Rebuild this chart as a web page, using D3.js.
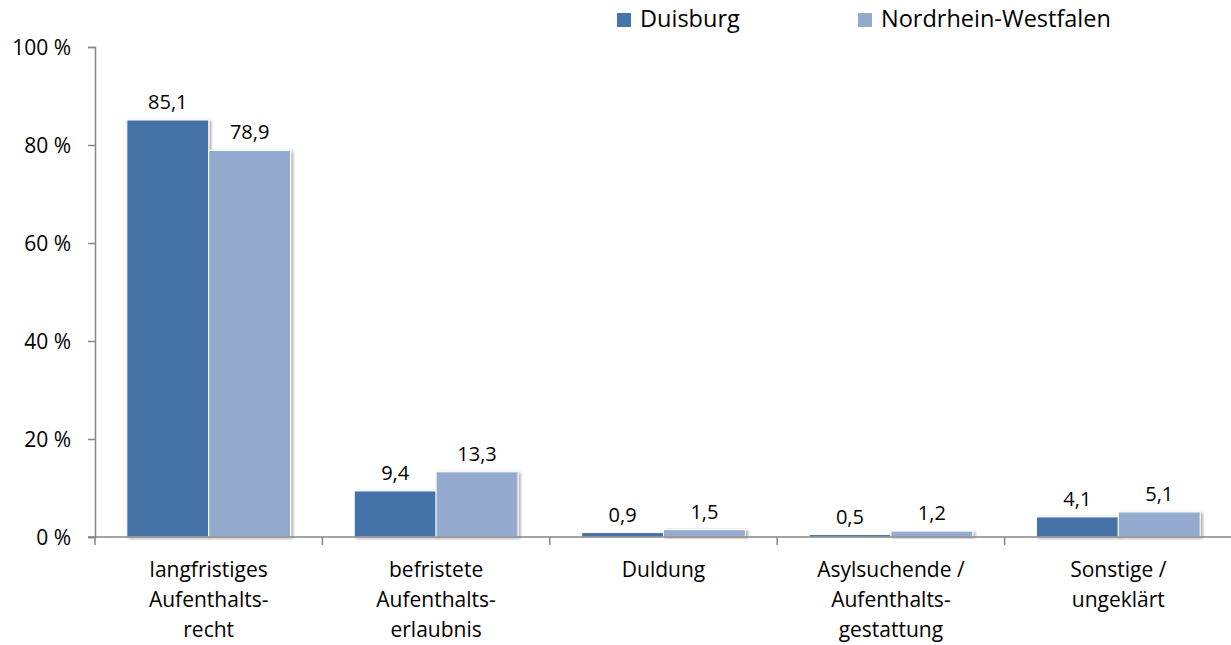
<!DOCTYPE html>
<html><head><meta charset="utf-8">
<script src="https://cdn.jsdelivr.net/npm/d3@7"></script>
<style>
html,body{margin:0;padding:0;background:#fff;}
svg{display:block;font-family:"Open Sans",sans-serif;}
</style></head>
<body><svg id="c" width="1231" height="645"></svg>
<script>
const categories = [
  ["langfristiges","Aufenthalts-","recht"],
  ["befristete","Aufenthalts-","erlaubnis"],
  ["Duldung"],
  ["Asylsuchende /","Aufenthalts-","gestattung"],
  ["Sonstige /","ungeklärt"]
];
const seriesNames = ["Duisburg","Nordrhein-Westfalen"];
const duisburg = [85.1, 9.4, 0.9, 0.5, 4.1];
const nrw = [78.9, 13.3, 1.5, 1.2, 5.1];
const yTicks = [0,20,40,60,80,100];
const colors = ["#4572A7","#94AACF"];

const svg = d3.select("#c");
const defs = svg.append("defs");
const f = defs.append("filter").attr("id","sh").attr("x","-10%").attr("y","-10%").attr("width","130%").attr("height","130%");
f.append("feGaussianBlur").attr("in","SourceAlpha").attr("stdDeviation",1.5).attr("result","b");
f.append("feOffset").attr("in","b").attr("dx",1.5).attr("dy",0.5).attr("result","o");
f.append("feComponentTransfer").attr("in","o").attr("result","o2").append("feFuncA").attr("type","linear").attr("slope",0.35);
const m = f.append("feMerge"); m.append("feMergeNode").attr("in","o2"); m.append("feMergeNode").attr("in","SourceGraphic");

const catKeys = categories.map((c,i)=>"c"+i);
const x0 = d3.scaleBand().domain(catKeys).range([95,1232]).paddingInner(0.28).paddingOuter(0.14);
const x1 = d3.scaleBand().domain(seriesNames).range([0,x0.bandwidth()]);
const y = d3.scaleLinear().domain([0,100]).range([537,47]);

const data = categories.map((c,i)=>({key:"c"+i, lines:c, vals:[duisburg[i],nrw[i]]}));

// bars
const g = svg.append("g");
data.forEach(d=>{
  d.vals.forEach((v,j)=>{
    g.append("rect")
      .attr("x", x0(d.key)+x1(seriesNames[j]))
      .attr("y", y(v))
      .attr("width", x1.bandwidth())
      .attr("height", y(0)-y(v))
      .attr("fill", colors[j])
      .attr("stroke","#fff").attr("stroke-width",1)
      .attr("filter","url(#sh)");
    g.append("text")
      .attr("x", x0(d.key)+x1(seriesNames[j])+x1.bandwidth()/2)
      .attr("y", y(v)-11)
      .attr("text-anchor","middle")
      .attr("font-size",20).attr("fill","#000")
      .text(d3.format(".1f")(v).replace(".",","));
  });
});

// y axis
const yAxis = svg.append("g").attr("transform","translate(95,0)")
  .call(d3.axisLeft(y).tickValues(yTicks).tickSize(7).tickPadding(17).tickFormat(d=>d+" %"));
yAxis.select(".domain").attr("stroke","#868686").attr("stroke-width",1.5);
yAxis.selectAll(".tick line").attr("stroke","#868686").attr("stroke-width",1.5);
yAxis.selectAll(".tick text").attr("font-size",21).attr("fill","#000").attr("font-family","Open Sans").attr("dy","0.35em");

// x axis baseline with boundary ticks
const xg = svg.append("g");
xg.append("line").attr("x1",88).attr("x2",1232).attr("y1",y(0)).attr("y2",y(0)).attr("stroke","#868686").attr("stroke-width",1.5);
const bounds = catKeys.map(k=>x0(k)-x0.step()*x0.paddingInner()/2);
bounds.push(1232);
bounds.forEach(b=>{
  xg.append("line").attr("x1",b).attr("x2",b).attr("y1",y(0)).attr("y2",y(0)+8).attr("stroke","#868686").attr("stroke-width",1.5);
});
data.forEach(d=>{
  const t = xg.append("text").attr("text-anchor","middle").attr("font-size",21).attr("fill","#000");
  d.lines.forEach((l,i)=>{
    t.append("tspan").attr("x", x0(d.key)+x0.bandwidth()/2).attr("y", y(0)+40+i*30).text(l);
  });
});

// legend
const legX = [617, 858];
seriesNames.forEach((s,i)=>{
  svg.append("rect").attr("x",legX[i]).attr("y",13).attr("width",14).attr("height",14).attr("fill",colors[i]);
  svg.append("text").attr("x",legX[i]+23).attr("y",27).attr("font-size",23.5).attr("fill","#000").text(s);
});
</script></body></html>
